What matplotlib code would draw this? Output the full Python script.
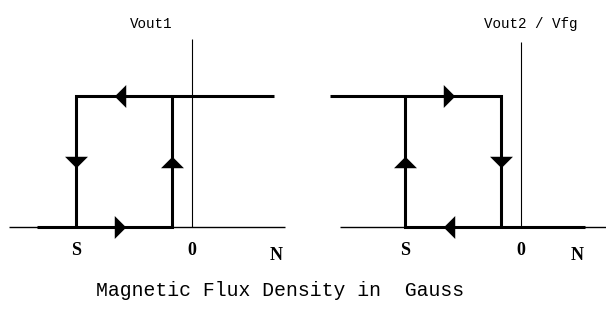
import matplotlib
matplotlib.use("Agg")
import matplotlib.pyplot as plt

# switching points in Gauss (0 = zero field)
b_s = -58        # south-side switch point
b_o = -10        # switch point just left of 0
arrow_b = -36    # where the horizontal arrows sit
arrow_v = 0.5    # where the vertical arrows sit
v_low = 0
v_high = 1

# panel 1: Vout1
p1_axis = [-91.5, 46.5]
p1_top = 1.435
p1_bottom_x = [-77.5, b_o, b_o]
p1_bottom_y = [v_low, v_low, v_high]
p1_top_x = [41, b_s, b_s]
p1_top_y = [v_high, v_high, v_low]
p1_n = 42

# panel 2: Vout2 / Vfg
p2_axis = [-90.5, 42.5]
p2_top = 1.41
p2_top_x = [-95.5, b_o, b_o]
p2_top_y = [v_high, v_high, v_low]
p2_bottom_x = [32, b_s, b_s]
p2_bottom_y = [v_low, v_low, v_high]
p2_n = 28

W, H = 606, 321


def tri(direction):
    # triangle, width twice the length
    base = {'r': [(0.5, 0), (-0.5, 1), (-0.5, -1)],
            'l': [(-0.5, 0), (0.5, 1), (0.5, -1)],
            'u': [(0, 0.5), (1, -0.5), (-1, -0.5)],
            'd': [(0, -0.5), (1, 0.5), (-1, 0.5)]}[direction]
    return base + [base[0]]


fig = plt.figure(figsize=(W / 100, H / 100), dpi=100)


def panel(left_px, zero_px, axis_x, axis_top, segs, arrows, n_x, label, label_x):
    ax = fig.add_axes([left_px / W, 0, 303 / W, 1])
    # 2 px per Gauss, 131 px between low and high
    ax.set_xlim((left_px - zero_px) / 2, (left_px + 303 - zero_px) / 2)
    ax.set_ylim((227 - 321) / 131, 227 / 131)
    ax.axis('off')
    ax.plot(axis_x, [0, 0], color='black', lw=1.0, solid_capstyle='butt')
    ax.plot([0, 0], [0, axis_top], color='black', lw=0.8, solid_capstyle='butt')
    for xs, ys in segs:
        ax.plot(xs, ys, color='black', lw=2.2, solid_joinstyle='miter',
                solid_capstyle='butt')
    for x, y, d in arrows:
        ax.plot([x], [y], marker=tri(d), markersize=16.5, color='black',
                markeredgewidth=0)
    lab = dict(fontfamily='Liberation Serif', fontweight='bold', fontsize=13,
               ha='center', va='center')
    ax.text(b_s, -0.183, 'S', **lab)
    ax.text(0, -0.18, '0', **lab)
    ax.text(n_x, -0.221, 'N', **lab)
    ax.text(label_x, 1.55, label, fontfamily='Liberation Mono', fontsize=10.3,
            ha='center', va='center')


panel(0, 192, p1_axis, p1_top,
      [(p1_bottom_x, p1_bottom_y), (p1_top_x, p1_top_y)],
      [(arrow_b, v_high, 'l'), (arrow_b, v_low, 'r'),
       (b_s, arrow_v, 'd'), (b_o, arrow_v, 'u')],
      p1_n, 'Vout1', -20.5)

panel(303, 521, p2_axis, p2_top,
      [(p2_top_x, p2_top_y), (p2_bottom_x, p2_bottom_y)],
      [(arrow_b, v_high, 'r'), (arrow_b, v_low, 'l'),
       (b_o, arrow_v, 'd'), (b_s, arrow_v, 'u')],
      p2_n, 'Vout2 / Vfg', 5)

fig.text(280 / W, 1 - 291 / H, 'Magnetic Flux Density in  Gauss',
         fontfamily='Liberation Mono', fontsize=14.2, ha='center', va='center')

fig.savefig('out.png', dpi=100, facecolor='white')
